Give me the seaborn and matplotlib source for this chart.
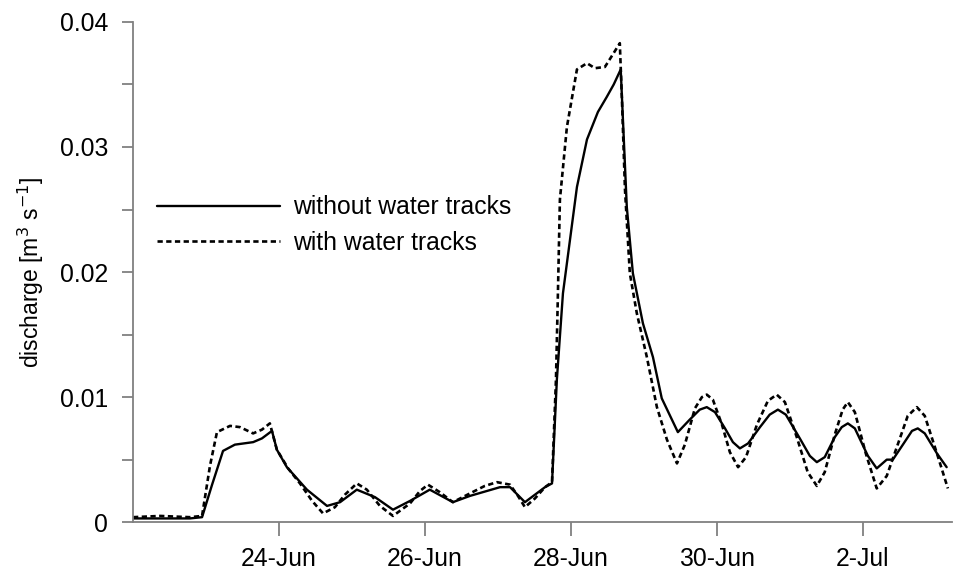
import pandas as pd
import numpy as np
import matplotlib
matplotlib.use('Agg')
import matplotlib.pyplot as plt
import matplotlib.ticker as mticker
import seaborn as sns

# Start of the record (year not shown on the chart)
start = pd.Timestamp('2012-06-22 00:00')

# Hours since start and discharge [m3 s-1]
hours_without = [0, 8.9, 18.7, 22.7, 26.0, 29.6, 33.5, 39.5, 42.4, 45.7, 47.3, 50.6, 57.2, 63.8,
                 68.1, 73.6, 79.6, 85.5, 91.1, 97.6, 105.2, 110.8, 120.7, 124.0, 128.9, 135.5,
                 137.8, 139.4, 141.4, 146.0, 149.3, 152.9, 155.8, 158.1, 160.4, 162.4, 164.4,
                 167.7, 171.0, 173.9, 179.2, 183.1, 186.4, 188.7, 191.4, 194.7, 197.3, 199.6,
                 202.3, 206.2, 209.4, 212.1, 214.7, 219.3, 222.6, 224.9, 227.5, 230.8, 233.1,
                 235.1, 237.4, 241.7, 244.6, 247.9, 249.9, 253.2, 256.2, 258.1, 260.4, 264.4,
                 267.6]
q_without = [0.0003, 0.0003, 0.0003, 0.0004, 0.0030, 0.0057, 0.0062, 0.0064, 0.0067, 0.0073,
             0.0058, 0.0044, 0.0026, 0.0013, 0.0016, 0.0026, 0.0020, 0.0010, 0.0017, 0.0026,
             0.0016, 0.0021, 0.0028, 0.0028, 0.0016, 0.0028, 0.0031, 0.0114, 0.0183, 0.0268,
             0.0306, 0.0328, 0.0340, 0.0350, 0.0362, 0.0252, 0.0199, 0.0159, 0.0132, 0.0099,
             0.0072, 0.0082, 0.0090, 0.0092, 0.0088, 0.0075, 0.0064, 0.0059, 0.0063, 0.0076,
             0.0086, 0.0090, 0.0086, 0.0067, 0.0053, 0.0048, 0.0052, 0.0068, 0.0076, 0.0079,
             0.0075, 0.0053, 0.0043, 0.0050, 0.0050, 0.0062, 0.0073, 0.0075, 0.0071, 0.0055,
             0.0044]

hours_with = [0, 8.9, 18.7, 22.7, 25.3, 27.6, 31.9, 35.2, 39.5, 42.4, 45.0, 47.3, 51.0, 54.9,
              58.9, 62.5, 66.4, 69.7, 73.6, 76.9, 81.2, 85.5, 91.1, 94.4, 97.0, 100.9, 105.2,
              110.8, 115.7, 119.7, 124.0, 126.6, 128.9, 132.2, 135.5, 137.8, 139.1, 139.7,
              140.4, 142.7, 146.0, 149.3, 151.9, 155.2, 157.8, 160.1, 160.8, 161.8, 163.4,
              165.7, 169.0, 172.3, 175.6, 178.9, 181.5, 184.8, 187.1, 188.7, 190.7, 193.7,
              196.3, 199.0, 201.6, 205.2, 208.8, 211.7, 214.4, 218.3, 221.9, 224.9, 227.5,
              230.8, 233.4, 235.1, 237.4, 241.0, 244.6, 247.9, 251.5, 254.8, 257.8, 260.4,
              264.4, 268.0]
q_with = [0.0004, 0.0005, 0.0004, 0.0005, 0.0045, 0.0072, 0.0077, 0.0076, 0.0071, 0.0074,
          0.0079, 0.0058, 0.0043, 0.0031, 0.0017, 0.0007, 0.0012, 0.0022, 0.0031, 0.0026,
          0.0013, 0.0005, 0.0015, 0.0025, 0.0030, 0.0024, 0.0016, 0.0023, 0.0029, 0.0032,
          0.0030, 0.0021, 0.0012, 0.0019, 0.0028, 0.0032, 0.0114, 0.0178, 0.0258, 0.0316,
          0.0362, 0.0367, 0.0363, 0.0364, 0.0374, 0.0383, 0.0338, 0.0266, 0.0199, 0.0167,
          0.0132, 0.0092, 0.0066, 0.0047, 0.0062, 0.0091, 0.0100, 0.0102, 0.0098, 0.0078,
          0.0056, 0.0044, 0.0052, 0.0078, 0.0097, 0.0102, 0.0096, 0.0068, 0.0040, 0.0029,
          0.0040, 0.0070, 0.0090, 0.0096, 0.0088, 0.0055, 0.0027, 0.0037, 0.0062, 0.0085,
          0.0092, 0.0085, 0.0055, 0.0027]

tick_dates = ['2012-06-24', '2012-06-26', '2012-06-28', '2012-06-30', '2012-07-02']
tick_labels = ['24-Jun', '26-Jun', '28-Jun', '30-Jun', '2-Jul']
y_ticks = [0, 0.01, 0.02, 0.03, 0.04]
y_labels = ['0', '0.01', '0.02', '0.03', '0.04']

df_without = pd.DataFrame({'time': start + pd.to_timedelta(hours_without, unit='h'),
                           'discharge': q_without})
df_with = pd.DataFrame({'time': start + pd.to_timedelta(hours_with, unit='h'),
                        'discharge': q_with})

sns.set_style('white')
plt.rcParams['font.family'] = ['Liberation Sans', 'DejaVu Sans']
plt.rcParams['text.color'] = 'black'
plt.rcParams['axes.labelcolor'] = 'black'
plt.rcParams['xtick.color'] = 'black'
plt.rcParams['ytick.color'] = 'black'

fig = plt.figure(figsize=(9.64, 5.77), dpi=100)
ax = fig.add_axes([0.138, 0.095, 0.850, 0.867])

sns.lineplot(data=df_without, x='time', y='discharge', ax=ax, color='black',
             linewidth=1.7, estimator=None, label='without water tracks')
sns.lineplot(data=df_with, x='time', y='discharge', ax=ax, color='black',
             linewidth=1.9, linestyle=(0, (2.0, 1.3)), estimator=None,
             label='with water tracks')

ax.set_xlim(start, start + pd.Timedelta(hours=269.5))
ax.set_ylim(0, 0.04)

ax.set_xticks(pd.to_datetime(tick_dates))
ax.set_xticklabels(tick_labels, fontsize=17.8)
ax.set_yticks(y_ticks)
ax.set_yticklabels(y_labels, fontsize=17.8)
ax.yaxis.set_minor_locator(mticker.MultipleLocator(0.005))

ax.set_xlabel('')
ax.set_ylabel(r'discharge [m$^3$ s$^{-1}$]', fontsize=16.5, labelpad=10)

for side in ['top', 'right']:
    ax.spines[side].set_visible(False)
for side in ['left', 'bottom']:
    ax.spines[side].set_color('#808080')
    ax.spines[side].set_linewidth(1.3)

ax.tick_params(axis='x', which='major', direction='out', length=10, width=1.3,
               color='#808080', labelcolor='black', pad=8, bottom=True)
ax.tick_params(axis='y', which='both', direction='out', length=8, width=1.3,
               color='#808080', labelcolor='black', pad=10, left=True)

ax.legend(loc='center left', bbox_to_anchor=(0.029, 0.594), frameon=False,
          fontsize=17.8, handlelength=5.0, handletextpad=0.5, labelspacing=0.45,
          borderpad=0, borderaxespad=0)

fig.savefig('out.png', dpi=100)
